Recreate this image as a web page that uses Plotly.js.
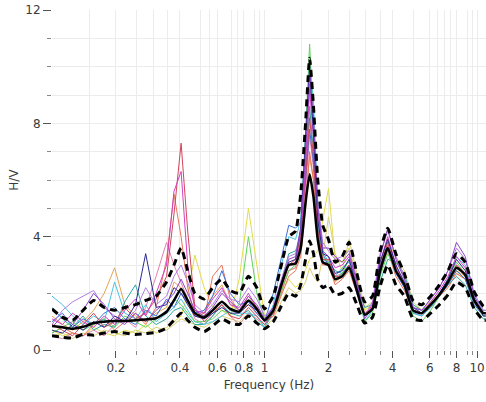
<!DOCTYPE html>
<html>
<head>
<meta charset="utf-8">
<script src="https://cdn.plot.ly/plotly-3.0.1.min.js"></script>
<style>html,body{margin:0;padding:0;background:#fff;}#plot{width:486px;height:402px;}</style>
</head>
<body>
<div id="plot"></div>
<script>
// Frequencies (Hz)
const freq = [0.100,0.112,0.125,0.140,0.157,0.176,0.197,0.220,0.247,0.276,0.309,0.346,0.375,0.405,0.435,0.470,0.52,0.57,0.63,0.69,0.76,0.84,0.92,1.00,1.10,1.20,1.30,1.40,1.48,1.56,1.63,1.70,1.78,1.88,2.00,2.15,2.32,2.50,2.72,2.96,3.22,3.50,3.80,4.15,4.55,5.00,5.50,6.05,6.65,7.30,8.00,8.80,9.70,10.70,11.00];

// Individual window H/V curves
const hvRed      = [0.9,0.7,0.5,0.9,1.3,0.8,1.0,1.5,1.1,1.3,1.8,2.6,4.8,7.3,4.2,1.5,1.0,1.3,1.6,1.2,1.1,1.5,1.2,0.9,1.3,2.2,3.0,3.2,4.0,6.0,8.2,6.8,4.2,3.2,3.2,2.6,2.6,3.0,2.2,1.2,1.4,2.9,3.8,2.8,2.3,1.4,1.3,1.6,2.0,2.4,3.0,2.7,1.7,1.3,1.3];
const hvMagenta  = [1.1,0.9,1.3,1.0,0.8,1.2,0.9,1.4,1.8,1.2,2.0,3.0,5.6,6.3,3.0,1.4,1.3,1.8,2.2,1.6,1.5,2.0,1.5,1.0,1.4,2.4,3.0,3.1,3.8,6.5,9.2,7.5,4.8,3.5,3.3,2.9,3.0,3.3,2.3,1.2,1.6,3.1,4.0,3.0,2.3,1.4,1.3,1.7,2.1,2.6,3.3,2.9,1.8,1.3,1.3];
const hvSalmon   = [0.6,0.8,0.6,0.5,0.9,1.1,0.7,1.0,1.3,0.9,1.5,3.2,5.5,4.0,2.2,1.2,1.1,2.6,3.0,1.8,1.4,1.6,1.3,1.0,1.2,1.9,2.6,2.8,3.3,5.0,7.0,6.0,3.9,3.0,3.0,2.3,2.5,2.8,2.0,1.3,1.5,2.7,3.5,2.6,2.1,1.4,1.3,1.5,1.9,2.2,2.7,2.5,1.7,1.3,1.3];
const hvPurple   = [0.8,1.2,0.9,1.4,2.0,1.6,1.1,0.9,1.3,1.0,1.4,1.7,2.0,2.5,2.0,1.4,1.2,1.5,2.0,1.7,1.4,1.9,1.6,1.1,1.5,2.4,3.2,3.3,4.2,7.0,9.8,8.2,5.0,3.6,3.6,3.3,3.1,3.4,2.4,1.1,1.5,3.3,4.3,3.2,2.5,1.5,1.4,1.8,2.2,2.8,3.8,3.3,1.9,1.3,1.3];
const hvNavy     = [0.7,0.6,0.9,0.7,1.0,0.8,1.2,1.0,1.6,3.4,1.5,1.6,2.2,2.0,1.6,1.2,1.1,1.3,1.5,1.3,1.3,1.6,1.4,1.0,1.4,2.3,3.1,3.2,4.3,7.5,10.0,7.6,4.6,3.4,3.3,2.7,2.8,3.2,2.2,1.2,1.5,3.1,3.9,3.0,2.4,1.5,1.3,1.6,2.0,2.5,3.2,2.8,1.8,1.2,1.2];
const hvBlue     = [1.0,1.3,0.8,1.1,0.9,1.3,1.5,1.1,0.9,1.4,1.2,1.8,1.5,2.0,1.7,1.3,1.4,1.9,2.8,2.0,1.6,1.7,1.3,1.0,2.0,3.2,4.4,4.3,4.5,6.0,7.8,6.6,4.5,3.4,3.0,2.5,2.7,3.0,2.0,1.2,1.4,2.7,3.6,2.7,2.2,1.3,1.2,1.5,1.9,2.3,2.8,2.5,1.6,1.2,1.2];
const hvCyan     = [1.9,1.6,1.2,0.9,1.2,1.0,2.4,1.3,1.1,1.6,1.0,1.3,1.5,1.8,1.4,1.0,0.9,1.0,1.2,1.4,1.3,1.3,1.2,0.8,1.6,3.0,4.0,3.9,4.6,7.8,10.1,8.8,5.2,3.5,3.1,2.6,2.9,3.1,2.1,1.0,1.4,2.9,3.6,2.7,2.3,1.3,1.2,1.5,2.0,2.5,3.3,3.0,1.9,1.4,1.4];
const hvTeal     = [1.5,1.1,0.8,1.2,0.7,0.9,0.8,1.7,2.3,1.2,0.9,1.1,1.4,1.5,1.2,0.9,0.9,1.2,1.6,1.3,1.2,1.4,1.0,0.8,1.3,2.4,3.4,3.5,4.0,6.2,8.6,7.0,4.4,3.2,3.1,2.8,2.7,3.0,2.3,1.5,1.6,2.4,3.2,3.1,2.7,1.6,1.4,1.6,1.9,2.3,2.6,2.3,1.5,1.1,1.1];
const hvGreen    = [0.6,0.8,1.0,0.7,0.9,1.1,0.8,1.2,1.0,0.8,1.1,1.3,1.8,1.6,1.3,1.0,1.0,1.1,1.4,1.3,1.6,4.0,2.0,1.1,1.3,2.1,2.8,3.0,3.9,7.6,10.8,8.0,4.6,3.3,3.1,2.5,2.7,3.2,2.3,1.0,1.3,2.6,3.4,2.8,2.3,1.2,1.0,1.4,1.9,2.5,3.1,2.7,1.7,1.2,1.2];
const hvYellow   = [0.7,0.5,0.6,0.5,0.8,0.6,0.5,0.7,0.6,0.9,0.6,0.8,1.0,1.2,2.0,3.35,2.2,1.5,1.4,1.2,2.5,5.0,3.0,1.2,1.3,2.0,2.5,2.2,2.4,2.8,3.2,3.3,3.5,4.6,5.7,3.2,3.1,3.6,2.6,1.4,1.6,3.0,3.6,3.1,2.6,1.6,1.4,1.7,2.0,2.4,2.8,2.5,1.7,1.3,1.3];
const hvKhaki    = [0.5,0.6,0.4,0.6,0.5,0.7,0.6,0.5,0.7,0.6,0.8,0.7,0.9,1.1,1.0,0.9,0.8,1.0,1.2,1.1,1.0,1.3,1.1,0.8,1.1,1.7,2.2,2.0,2.1,2.4,2.9,2.6,2.4,3.3,4.7,3.4,2.8,3.9,2.7,1.5,1.7,3.0,3.9,3.3,2.8,1.7,1.4,1.6,2.0,2.4,2.7,2.5,1.8,1.4,1.4];
const hvOrange   = [1.2,0.9,0.7,1.0,1.4,2.0,2.9,1.6,1.2,1.0,1.3,1.5,2.4,2.2,1.6,1.2,1.3,1.9,2.3,1.6,1.4,1.9,1.5,1.1,1.3,2.1,2.8,2.9,3.6,5.4,6.8,6.0,4.0,3.1,3.0,2.4,2.6,3.0,2.1,1.3,1.5,2.8,3.6,2.8,2.3,1.4,1.3,1.6,1.9,2.3,2.8,2.6,1.7,1.3,1.3];
const hvLavender = [0.9,1.4,1.7,1.9,2.1,1.5,1.2,1.0,1.4,2.2,1.6,1.9,2.6,3.0,2.4,1.6,1.3,1.6,2.1,1.8,1.7,2.2,1.8,1.2,1.5,2.5,3.3,3.4,4.3,6.8,9.4,8.0,5.2,3.8,3.5,3.2,3.3,3.5,2.5,1.2,1.7,3.4,4.2,3.3,2.6,1.5,1.4,1.8,2.2,2.8,3.6,3.2,2.0,1.4,1.4];
const hvPink     = [0.5,0.4,0.6,0.5,0.7,0.5,0.9,1.1,0.8,1.5,2.6,3.8,3.0,2.4,1.8,1.1,0.9,1.2,1.6,1.2,0.9,1.3,1.1,0.9,1.2,2.0,2.8,2.9,3.7,5.6,7.6,6.4,4.2,3.1,3.1,2.6,2.7,3.0,2.2,1.3,1.5,2.9,3.7,2.9,2.3,1.4,1.3,1.6,1.9,2.4,3.0,2.7,1.7,1.3,1.3];

// Average and standard-deviation curves
const hvMean  = [0.85,0.80,0.75,0.82,0.95,1.00,1.02,1.02,1.05,1.08,1.12,1.35,1.75,2.15,1.75,1.30,1.15,1.40,1.70,1.45,1.35,1.75,1.45,1.05,1.40,2.30,3.00,3.05,3.60,5.20,6.20,5.40,3.90,3.10,3.00,2.50,2.60,2.90,2.10,1.25,1.45,2.80,3.60,2.80,2.30,1.40,1.30,1.60,1.95,2.40,2.90,2.65,1.75,1.30,1.30];
const hvUpper = [1.45,1.15,1.05,1.40,1.75,1.50,1.40,1.50,1.60,1.75,1.90,2.40,3.00,3.60,2.80,2.00,1.80,2.20,2.50,2.10,2.00,2.60,2.20,1.45,1.90,3.00,4.00,4.20,5.50,8.00,10.30,8.60,6.00,4.40,3.90,3.10,3.30,3.80,2.70,1.70,1.90,3.50,4.30,3.40,2.70,1.75,1.60,1.90,2.30,2.80,3.40,3.10,2.05,1.55,1.50];
const hvLower = [0.50,0.45,0.42,0.55,0.52,0.60,0.65,0.60,0.55,0.58,0.62,0.78,1.05,1.30,1.05,0.80,0.65,0.85,1.10,0.95,0.90,1.20,0.95,0.75,1.00,1.55,2.00,1.90,2.30,3.20,3.85,3.40,2.50,2.20,2.30,1.95,2.00,2.20,1.60,0.95,1.15,2.25,3.00,2.30,1.90,1.10,1.05,1.30,1.60,1.95,2.40,2.20,1.45,1.05,1.05];

const xTickVals = [0.2,0.4,0.6,0.8,1,2,4,6,8,10];
const xTickText = ['0.2','0.4','0.6','0.8','1','2','4','6','8','10'];
const xMinorVals = [0.15,0.25,0.3,0.35,0.5,0.55,0.7,0.75,0.9,0.95,1.5,2.5,3,3.5,5,6.5,7,7.5,9,9.5];
const yTickVals = [0,4,8,12];
const yTickText = ['0','4','8','12'];

const windows = [
  [hvYellow,'#e3dc4a'],[hvKhaki,'#d9d070'],[hvOrange,'#e3a457'],[hvPink,'#e57fae'],
  [hvSalmon,'#e8745c'],[hvTeal,'#2ea89a'],[hvBlue,'#3d6fd6'],[hvCyan,'#4cc2e4'],
  [hvGreen,'#5ed55a'],[hvLavender,'#b07de4'],[hvRed,'#d2455a'],[hvMagenta,'#d43fc0'],
  [hvNavy,'#2c2a90'],[hvPurple,'#8e44c8']
];

const traces = windows.map(([ys,c]) => ({
  x: freq, y: ys, type:'scatter', mode:'lines',
  line:{color:c, width:1}, hoverinfo:'skip', showlegend:false
}));
traces.push({x:freq, y:hvUpper, type:'scatter', mode:'lines', line:{color:'#000', width:3, dash:'7px,5px', shape:'spline', smoothing:0.5}, showlegend:false});
traces.push({x:freq, y:hvLower, type:'scatter', mode:'lines', line:{color:'#000', width:3, dash:'7px,5px', shape:'spline', smoothing:0.5}, showlegend:false});
traces.push({x:freq, y:hvMean, type:'scatter', mode:'lines', line:{color:'#000', width:2.5, shape:'spline', smoothing:0.5}, showlegend:false});

const gridC = '#ececec';
const layout = {
  width:486, height:402,
  margin:{l:52, r:0, t:10, b:52},
  paper_bgcolor:'#fff', plot_bgcolor:'#fff',
  font:{family:'DejaVu Sans, sans-serif', size:12, color:'#3a3a3a'},
  showlegend:false,
  xaxis:{
    type:'log', range:[-1, Math.log10(11.02)],
    tickmode:'array', tickvals:xTickVals, ticktext:xTickText,
    ticklabeloverflow:'allow',
    ticks:'outside', ticklen:7, tickcolor:'#555', tickwidth:1,
    showgrid:true, gridcolor:gridC, gridwidth:1,
    minor:{tickmode:'array', tickvals:xMinorVals, ticks:'outside', ticklen:4, tickcolor:'#888', showgrid:true, gridcolor:gridC},
    zeroline:false, showline:false,
    tickfont:{size:12, color:'#3a3a3a'},
    title:{text:'Frequency (Hz)', font:{size:12, color:'#3a3a3a'}, standoff:6}
  },
  yaxis:{
    range:[0,12],
    tickmode:'array', tickvals:yTickVals, ticktext:yTickText,
    ticks:'outside', ticklen:8, tickcolor:'#555', tickwidth:1,
    showgrid:true, gridcolor:gridC, gridwidth:1,
    minor:{dtick:1, ticks:'outside', ticklen:4, tickcolor:'#888', showgrid:true, gridcolor:gridC},
    zeroline:false, showline:false,
    tickfont:{size:12, color:'#3a3a3a'},
    title:{text:'H/V', font:{size:12, color:'#3a3a3a'}, standoff:4}
  }
};

Plotly.newPlot('plot', traces, layout, {staticPlot:true, displayModeBar:false});
</script>
</body>
</html>
